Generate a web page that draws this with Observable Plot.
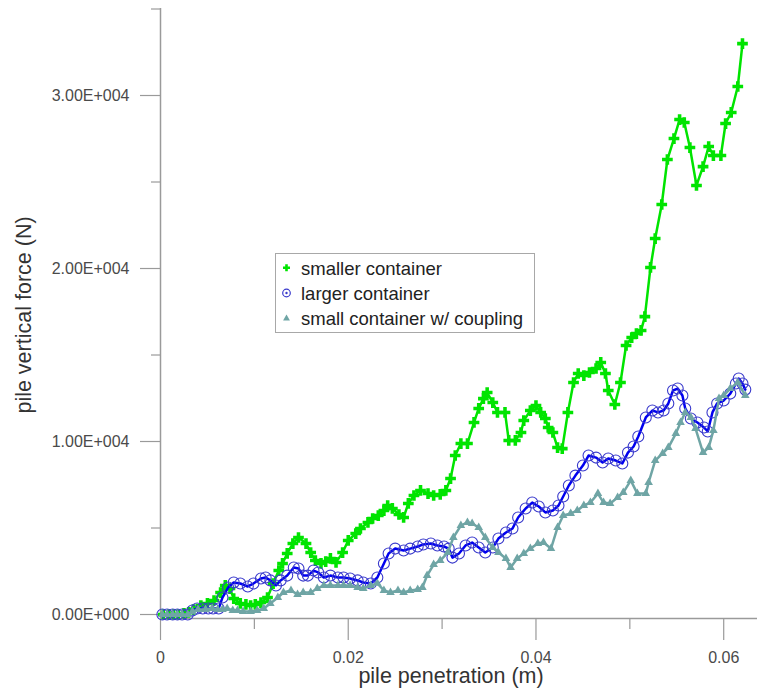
<!DOCTYPE html>
<html><head><meta charset="utf-8">
<script src="https://cdn.jsdelivr.net/npm/d3@7"></script>
<script src="https://cdn.jsdelivr.net/npm/@observablehq/plot@0.6"></script>
<style>
body{margin:0;background:#fff;font-family:"Liberation Sans",Arial,sans-serif;}
#wrap{position:relative;width:757px;height:690px;overflow:hidden;}
#wrap svg.plot{position:absolute;left:0;top:0;}
#legend{position:absolute;left:275px;top:253px;width:260px;height:80px;border:1px solid #a8a8a8;background:#fff;box-sizing:border-box;}
.row{position:absolute;left:0;height:24px;width:258px;}
.row svg{position:absolute;left:0;top:0;}
.row span{position:absolute;left:25px;top:2px;font-size:18.5px;line-height:20px;color:#222;white-space:nowrap;}
.title{position:absolute;font-size:21.5px;line-height:22px;color:#333;white-space:nowrap;}
</style></head><body><div id="wrap"></div>
<script>
// ---- data (pile penetration in m, pile vertical force in N) ----
const xSmaller = [0.0003,0.0009,0.0014,0.0019,0.0025,0.0030,0.0035,0.0043,0.0050,0.0057,0.0064,0.0069,0.0074,0.0078,0.0085,0.0091,0.0096,0.0101,0.0107,0.0114,0.0120,0.0126,0.0130,0.0135,0.0141,0.0147,0.0155,0.0160,0.0165,0.0171,0.0176,0.0181,0.0187,0.0194,0.0200,0.0208,0.0213,0.0221,0.0226,0.0232,0.0238,0.0242,0.0247,0.0254,0.0259,0.0264,0.0270,0.0277,0.0285,0.0291,0.0298,0.0304,0.0309,0.0314,0.0320,0.0327,0.0334,0.0339,0.0344,0.0348,0.0354,0.0359,0.0367,0.0371,0.0378,0.0384,0.0387,0.0394,0.0400,0.0405,0.0410,0.0413,0.0418,0.0423,0.0428,0.0434,0.0440,0.0445,0.0451,0.0457,0.0464,0.0469,0.0474,0.0477,0.0484,0.0490,0.0496,0.0502,0.0507,0.0512,0.0516,0.0522,0.0527,0.0534,0.0540,0.0547,0.0553,0.0558,0.0564,0.0571,0.0578,0.0584,0.0589,0.0597,0.0602,0.0608,0.0615,0.0620];
const ySmaller = [0,0,0,0,60,120,290,520,640,810,
1270,1680,1500,920,640,580,520,580,690,980,
1790,2540,2950,3530,4100,4450,4100,3580,3120,2950,
3060,3240,3010,3580,4280,4680,4970,5320,5550,5720,
6010,6300,6130,5780,5610,6420,6880,7170,6990,6880,
6940,7170,7860,9190,9880,9880,11100,11910,12480,12830,
12250,11680,11680,10060,10060,10520,11210,11790,12080,11680,
11330,10810,10520,9650,9590,11680,13410,13930,13810,13990,
14220,14570,13930,12950,12140,13410,15550,16010,16240,16420,
17220,20060,21730,23700,26300,27510,28610,28440,26990,24800,
25890,27050,26530,26530,28380,29020,30520,33000];

const xLarger = [0.0002,0.0007,0.0013,0.0018,0.0023,0.0029,0.0034,0.0039,0.0045,0.0051,
0.0056,0.0062,0.0066,0.0072,0.0078,0.0085,0.0093,0.0099,0.0107,0.0112,
0.0117,0.0123,0.0128,0.0135,0.0142,0.0147,0.0152,0.0157,0.0163,0.0168,
0.0174,0.0181,0.0189,0.0195,0.0202,0.0210,0.0216,0.0224,0.0231,0.0238,
0.0243,0.0250,0.0259,0.0266,0.0274,0.0280,0.0288,0.0295,0.0302,0.0307,
0.0311,0.0318,0.0325,0.0332,0.0339,0.0346,0.0354,0.0360,0.0368,0.0375,
0.0381,0.0389,0.0396,0.0403,0.0410,0.0418,0.0424,0.0429,0.0435,0.0442,
0.0450,0.0456,0.0464,0.0471,0.0477,0.0485,0.0492,0.0498,0.0504,0.0509,
0.0517,0.0524,0.0530,0.0536,0.0541,0.0546,0.0551,0.0556,0.0559,0.0565,
0.0572,0.0579,0.0583,0.0588,0.0593,0.0600,0.0607,0.0613,0.0616,0.0620,
0.0623];
const yLarger = [0,0,0,0,0,0,230,350,350,350,
350,350,980,1560,1850,1790,1620,1790,2080,2140,
1970,1680,1970,2250,2720,2660,2250,2250,2540,2430,
2140,2250,2140,2140,2080,1970,1850,1790,2140,2950,
3530,3810,3700,3810,3930,4050,4100,3990,3930,3810,
3290,3530,3990,4160,3870,3580,3870,4390,4740,4970,
5610,6130,6470,6240,5900,6010,6300,6820,7460,8030,
8610,9190,9070,8790,9020,8900,8730,9360,9710,10290,
11390,11790,11680,11790,12200,12950,13060,12660,11910,11330,
11100,10810,10580,11680,12200,12370,12770,13350,13640,13350,
13000];

const xCoupling = [0.0002,0.0007,0.0013,0.0018,0.0023,0.0029,0.0034,0.0040,0.0048,0.0055,
0.0061,0.0066,0.0071,0.0077,0.0082,0.0088,0.0096,0.0103,0.0110,0.0117,
0.0125,0.0131,0.0139,0.0146,0.0152,0.0160,0.0167,0.0174,0.0181,0.0189,
0.0195,0.0202,0.0210,0.0216,0.0224,0.0231,0.0238,0.0245,0.0253,0.0259,
0.0266,0.0274,0.0279,0.0284,0.0291,0.0298,0.0306,0.0312,0.0320,0.0327,
0.0332,0.0339,0.0346,0.0354,0.0360,0.0368,0.0373,0.0380,0.0387,0.0394,
0.0402,0.0408,0.0416,0.0423,0.0429,0.0437,0.0444,0.0451,0.0458,0.0466,
0.0472,0.0479,0.0487,0.0493,0.0501,0.0508,0.0517,0.0520,0.0527,0.0535,
0.0541,0.0549,0.0554,0.0559,0.0565,0.0570,0.0578,0.0584,0.0589,0.0595,
0.0600,0.0607,0.0615,0.0623];
const yCoupling = [0,0,0,0,0,0,170,290,290,350,
290,290,350,230,230,170,170,230,350,640,
980,1270,1390,1160,1270,1270,1500,1680,1680,1680,
1680,1680,1560,1500,1680,1800,1390,1270,1390,1270,
1390,1450,1560,2250,2890,3120,3580,4450,5140,5320,
5260,5030,4450,3870,3580,3240,2720,3240,3530,3810,
4100,4160,3810,5030,5720,5840,6010,6300,6470,6990,
6470,6420,6760,7050,7750,6990,6990,7630,8900,9310,
9650,10460,11100,11680,11390,10750,9360,9650,10640,12490,
12660,13060,13410,12660];

const seriesNames = ["smaller container", "larger container", "small container w/ coupling"];
const yMajorTicks = [0, 10000, 20000, 30000];
const yMinorTicks = [5000, 15000, 25000, 35000];
const xMajorTicks = [0, 0.02, 0.04, 0.06];
const xMinorTicks = [0.01, 0.03, 0.05];
const xDomain = [0, 0.0636];
const yDomain = [-231, 35029];
const xTitle = "pile penetration (m)";
const yTitle = "pile vertical force (N)";

// ---- styles ----
const cGreen = "#00e400", cBlue = "#0000f0", cBlueRing = "#3a3acc", cTeal = "#6fa5a5";
const axisColor = "#9a9a9a", labelColor = "#4a4a4a";

const toRows = (xs, ys) => xs.map((x, i) => ({x, y: ys[i]}));
const smaller = toRows(xSmaller, ySmaller);
const larger = toRows(xLarger, yLarger);
const coupling = toRows(xCoupling, yCoupling);

function sci(v) {
  const [m, e] = v.toExponential(2).split("e");
  return m + "E" + e[0] + e.slice(1).padStart(3, "0");
}

const chart = Plot.plot({
  width: 757, height: 690,
  marginLeft: 160, marginRight: 0, marginTop: 8, marginBottom: 72,
  style: {fontFamily: "'Liberation Sans', Arial, sans-serif", background: "#fff"},
  x: {domain: xDomain},
  y: {domain: yDomain},
  marks: [
    Plot.ruleX([0], {y1: yDomain[0], y2: yDomain[1], stroke: axisColor, strokeWidth: 1.5}),
    Plot.ruleY([yDomain[0]], {x1: xDomain[0], x2: xDomain[1], stroke: axisColor, strokeWidth: 1.5}),
    Plot.axisY(yMajorTicks, {anchor: "left", tickSize: 20, tickPadding: 11, tickFormat: sci, stroke: axisColor, strokeWidth: 1.2, fill: labelColor, fontSize: 16, label: null}),
    Plot.axisY(yMinorTicks, {anchor: "left", tickSize: 9, fill: "none", stroke: axisColor, strokeWidth: 1.2, label: null}),
    Plot.axisX(xMajorTicks, {anchor: "bottom", tickSize: 22, tickPadding: 11, tickFormat: d => d === 0 ? "0" : d.toFixed(2), stroke: axisColor, strokeWidth: 1.2, fill: labelColor, fontSize: 16, label: null}),
    Plot.axisX(xMinorTicks, {anchor: "bottom", tickSize: 11, fill: "none", stroke: axisColor, strokeWidth: 1.2, label: null}),
    // smaller container
    Plot.line(smaller, {x: "x", y: "y", stroke: cGreen, strokeWidth: 2.5}),
    Plot.dot(smaller, {x: "x", y: "y", symbol: "cross", r: 4.5, fill: cGreen, stroke: "none"}),
    // larger container
    Plot.line(larger, {x: "x", y: "y", stroke: cBlue, strokeWidth: 2.5}),
    Plot.dot(larger, {x: "x", y: "y", symbol: "circle", r: 5.5, fill: "none", stroke: cBlueRing, strokeWidth: 1.1}),
    // small container w/ coupling
    Plot.line(coupling, {x: "x", y: "y", stroke: cTeal, strokeWidth: 2.5}),
    Plot.dot(coupling, {x: "x", y: "y", symbol: "triangle", r: 3.2, fill: cTeal, stroke: "none"})
  ]
});

const wrap = document.getElementById("wrap");
wrap.appendChild(chart);

// axis titles
const xt = document.createElement("div");
xt.className = "title"; xt.textContent = xTitle;
xt.style.left = "451px"; xt.style.top = "665px"; xt.style.transform = "translateX(-50%)";
wrap.appendChild(xt);
const yt = document.createElement("div");
yt.className = "title"; yt.textContent = yTitle;
yt.style.left = "24px"; yt.style.top = "315px"; yt.style.transform = "translate(-50%,-50%) rotate(-90deg)";
wrap.appendChild(yt);

// legend
const legend = document.createElement("div");
legend.id = "legend";
const symbols = [
  `<svg width="22" height="24"><path d="M7,9.5h2.2v-2.2h2.6v2.2h2.2v2.6h-2.2v2.2h-2.6v-2.2h-2.2z" fill="${cGreen}"/></svg>`,
  `<svg width="22" height="24"><circle cx="10.5" cy="11" r="3.8" fill="none" stroke="${cBlueRing}" stroke-width="1.2"/><circle cx="10.5" cy="11" r="1.2" fill="${cBlueRing}"/></svg>`,
  `<svg width="22" height="24"><path d="M10.5,7.5l3.4,6h-6.8z" fill="${cTeal}"/></svg>`
];
seriesNames.forEach((name, i) => {
  const row = document.createElement("div");
  row.className = "row";
  row.style.top = (3 + i * 25) + "px";
  row.innerHTML = symbols[i] + `<span>${name}</span>`;
  legend.appendChild(row);
});
wrap.appendChild(legend);
</script>
</body></html>
